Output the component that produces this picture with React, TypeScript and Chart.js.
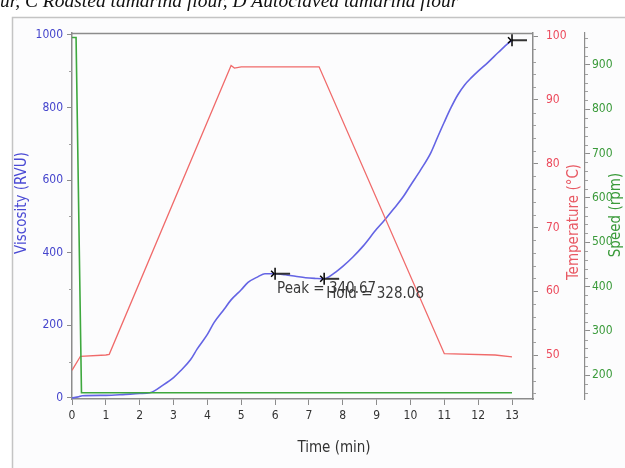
import React, { useEffect, useRef } from "react";
import { Chart, registerables } from "chart.js";

Chart.register(...registerables);

// ---- data ----
const viscTime = [0, 0.2, 0.3, 1.0, 1.5, 2.0, 2.3, 2.7, 3.0, 3.2, 3.5, 3.7, 4.0, 4.2, 4.5, 4.7, 5.0, 5.2, 5.5, 5.7, 6.0, 6.3, 6.6, 6.9, 7.2, 7.45, 7.6, 7.8, 8.0, 8.3, 8.6, 9.0, 9.2, 9.5, 9.8, 10.0, 10.3, 10.6, 10.8, 11.0, 11.2, 11.4, 11.6, 11.8, 12.0, 12.3, 12.6, 12.9, 13.0];
const viscValues = [0, 3, 6, 7, 9, 12, 14, 36, 56, 74, 105, 135, 175, 208, 245, 270, 298, 318, 334, 342, 342, 339, 335, 331, 329, 328, 334, 347, 362, 388, 418, 465, 486, 520, 556, 585, 628, 675, 718, 760, 800, 835, 862, 882, 900, 925, 952, 978, 985];

const tempTime = [0, 0.25, 1.0, 1.1, 4.7, 4.8, 5.0, 7.3, 11.0, 12.5, 13.0];
const tempValues = [47.6, 49.8, 50.0, 50.1, 95.4, 95.0, 95.2, 95.2, 50.2, 50.0, 49.7];

const speedTime = [0, 0.12, 0.28, 13.0];
const speedValues = [962, 962, 160, 160];

const timeTicks = [0, 1, 2, 3, 4, 5, 6, 7, 8, 9, 10, 11, 12, 13];
const viscTicks = [0, 200, 400, 600, 800, 1000];
const tempTicks = [50, 60, 70, 80, 90, 100];
const speedTicks = [200, 300, 400, 500, 600, 700, 800, 900];

const markerTimes = [6.0, 7.45, 13.0];
const markerValues = [342, 328, 985];
const markerLabels = ["Peak = 340.67", "Hold = 328.08", ""];

const captionText = "ur, C Roasted tamarind flour, D Autoclaved tamarind flour";
const xTitle = "Time (min)";
const viscTitle = "Viscosity (RVU)";
const tempTitle = "Temperature (°C)";
const speedTitle = "Speed (rpm)";

const NARROW = "'DejaVu Sans Condensed', 'Liberation Sans Narrow', sans-serif";

const BLUE = "#6464e4";
const RED = "#f06a6a";
const GREEN = "#3ea83e";
const AXIS = "#8c8c8c";

const pts = (xs: number[], ys: number[]) => xs.map((x, i) => ({ x, y: ys[i] }));
const setTicks = (arr: number[]) => (s: any) => {
  s.ticks = arr.map((v) => ({ value: v }));
};
const plain = (v: any) => String(v);

const framePlugin = {
  id: "frame",
  beforeDraw(chart: any) {
    const ctx = chart.ctx;
    ctx.save();
    ctx.fillStyle = "#ffffff";
    ctx.fillRect(0, 0, chart.width, chart.height);
    ctx.fillStyle = "#fcfcfd";
    ctx.fillRect(12, 17, chart.width, chart.height);
    ctx.strokeStyle = "#c4c4c4";
    ctx.lineWidth = 1.5;
    ctx.beginPath();
    ctx.moveTo(12.5, chart.height + 2);
    ctx.lineTo(12.5, 17.5);
    ctx.lineTo(chart.width + 2, 17.5);
    ctx.stroke();
    ctx.fillStyle = "#111";
    ctx.font = "italic 19.5px 'Liberation Serif', 'DejaVu Serif', serif";
    ctx.textBaseline = "alphabetic";
    ctx.textAlign = "left";
    ctx.fillText(captionText, 0, 7);
    ctx.restore();
  },
};

const decorPlugin = {
  id: "decor",
  afterDraw(chart: any) {
    const ctx = chart.ctx;
    const { top, left, right } = chart.chartArea;
    ctx.save();
    ctx.strokeStyle = AXIS;
    ctx.lineWidth = 1.5;
    ctx.beginPath();
    ctx.moveTo(left, top + 0.5);
    ctx.lineTo(right, top + 0.5);
    ctx.stroke();
    ctx.lineWidth = 1;
    ctx.strokeStyle = "#a0a0a0";
    const line = (x1: number, y1: number, x2: number, y2: number) => {
      ctx.beginPath();
      ctx.moveTo(x1, y1);
      ctx.lineTo(x2, y2);
      ctx.stroke();
    };
    const y = chart.scales.y;
    for (let v = 100; v <= 1000; v += 200) {
      const py = Math.round(y.getPixelForValue(v)) + 0.5;
      line(left - 3, py, left, py);
    }
    const t = chart.scales.yTemp;
    for (let v = 44; v <= 100; v += 2) {
      if (v % 10 === 0) continue;
      const py = Math.round(t.getPixelForValue(v)) + 0.5;
      line(right, py, right + 3, py);
    }
    const s = chart.scales.ySpeed;
    for (let v = 160; v <= 960; v += 20) {
      if (v % 100 === 0) continue;
      const py = Math.round(s.getPixelForValue(v)) + 0.5;
      line(s.left, py, s.left + 3, py);
    }
    const xs = chart.scales.x;
    markerTimes.forEach((mt, i) => {
      const px = xs.getPixelForValue(mt);
      const py = y.getPixelForValue(markerValues[i]);
      ctx.strokeStyle = "#333";
      ctx.lineWidth = 2;
      line(px, py, px + 15, py);
      ctx.strokeStyle = "#000";
      ctx.lineWidth = 1.5;
      line(px, py - 6, px, py + 6);
      line(px - 4, py - 3, px - 1, py);
      line(px - 4, py + 3, px - 1, py);
      if (markerLabels[i]) {
        ctx.fillStyle = "#3a3a3a";
        ctx.font = `15px ${NARROW}`;
        ctx.textAlign = "left";
        ctx.textBaseline = "middle";
        ctx.fillText(markerLabels[i], px + 2, py + 15);
      }
    });
    const rot = (text: string, x: number, yy: number, color: string, size: number) => {
      ctx.save();
      ctx.translate(x, yy);
      ctx.rotate(-Math.PI / 2);
      ctx.fillStyle = color;
      ctx.font = `${size}px ${NARROW}`;
      ctx.textAlign = "center";
      ctx.textBaseline = "middle";
      ctx.fillText(text, 0, 0);
      ctx.restore();
    };
    rot(viscTitle, 22, 203, "#4a4ad4", 15);
    rot(tempTitle, 574, 222, "#e85a64", 15);
    rot(speedTitle, 616, 215, "#3a9a3a", 15);
    ctx.fillStyle = "#333";
    ctx.font = `15px ${NARROW}`;
    ctx.textAlign = "center";
    ctx.textBaseline = "middle";
    ctx.fillText(xTitle, 334, 448);
    ctx.restore();
  },
};

export default function App() {
  const ref = useRef<HTMLCanvasElement | null>(null);
  useEffect(() => {
    if (!ref.current) return;
    const tickFont = { family: NARROW, size: 12 };
    const chart = new Chart(ref.current, {
      type: "line",
      data: {
        datasets: [
          {
            label: "Speed",
            data: pts(speedTime, speedValues),
            yAxisID: "ySpeed",
            borderColor: GREEN,
            borderWidth: 1.6,
            pointRadius: 0,
            tension: 0,
          },
          {
            label: "Temperature",
            data: pts(tempTime, tempValues),
            yAxisID: "yTemp",
            borderColor: RED,
            borderWidth: 1.3,
            pointRadius: 0,
            tension: 0,
          },
          {
            label: "Viscosity",
            data: pts(viscTime, viscValues),
            yAxisID: "y",
            borderColor: BLUE,
            borderWidth: 1.6,
            pointRadius: 0,
            cubicInterpolationMode: "monotone",
          },
        ],
      },
      options: {
        animation: false,
        responsive: false,
        devicePixelRatio: 1,
        layout: { padding: { top: 33, left: 0, right: 0, bottom: 0 } },
        plugins: { legend: { display: false }, tooltip: { enabled: false } },
        scales: {
          x: {
            type: "linear",
            min: 0,
            max: 13.62,
            afterBuildTicks: setTicks(timeTicks),
            ticks: { color: "#333", font: tickFont, padding: 4, callback: plain },
            grid: { drawOnChartArea: false, tickLength: 6, color: AXIS },
            border: { display: true, color: AXIS, width: 1.5 },
            afterFit: (s: any) => { s.height = 69; },
          },
          y: {
            type: "linear",
            position: "left",
            min: -3,
            max: 1005,
            afterBuildTicks: setTicks(viscTicks),
            ticks: { color: "#4444cc", font: tickFont, padding: 4, callback: plain },
            grid: { drawOnChartArea: false, tickLength: 5, color: AXIS },
            border: { display: true, color: AXIS, width: 1.5 },
            afterFit: (s: any) => { s.width = 72; },
          },
          yTemp: {
            type: "linear",
            position: "right",
            weight: 0,
            min: 43.1,
            max: 100.5,
            afterBuildTicks: setTicks(tempTicks),
            ticks: { color: "#ec4a5c", font: tickFont, padding: 8, callback: plain },
            grid: { drawOnChartArea: false, tickLength: 5, color: AXIS },
            border: { display: true, color: AXIS, width: 1.5 },
            afterFit: (s: any) => { s.width = 52; },
          },
          ySpeed: {
            type: "linear",
            position: "right",
            weight: 1,
            min: 146,
            max: 972,
            afterBuildTicks: setTicks(speedTicks),
            ticks: { color: "#3a9a3a", font: tickFont, padding: 2, callback: plain },
            grid: { drawOnChartArea: false, tickLength: 5, color: AXIS },
            border: { display: true, color: AXIS, width: 1.2 },
            afterFit: (s: any) => { s.width = 40; },
          },
        },
      },
      plugins: [framePlugin, decorPlugin],
    } as any);
    return () => chart.destroy();
  }, []);
  return (
    <div style={{ position: "absolute", left: 0, top: 0, width: 625, height: 468, overflow: "hidden" }}>
      <canvas ref={ref} width={625} height={468} style={{ width: 625, height: 468, display: "block" }} />
    </div>
  );
}
